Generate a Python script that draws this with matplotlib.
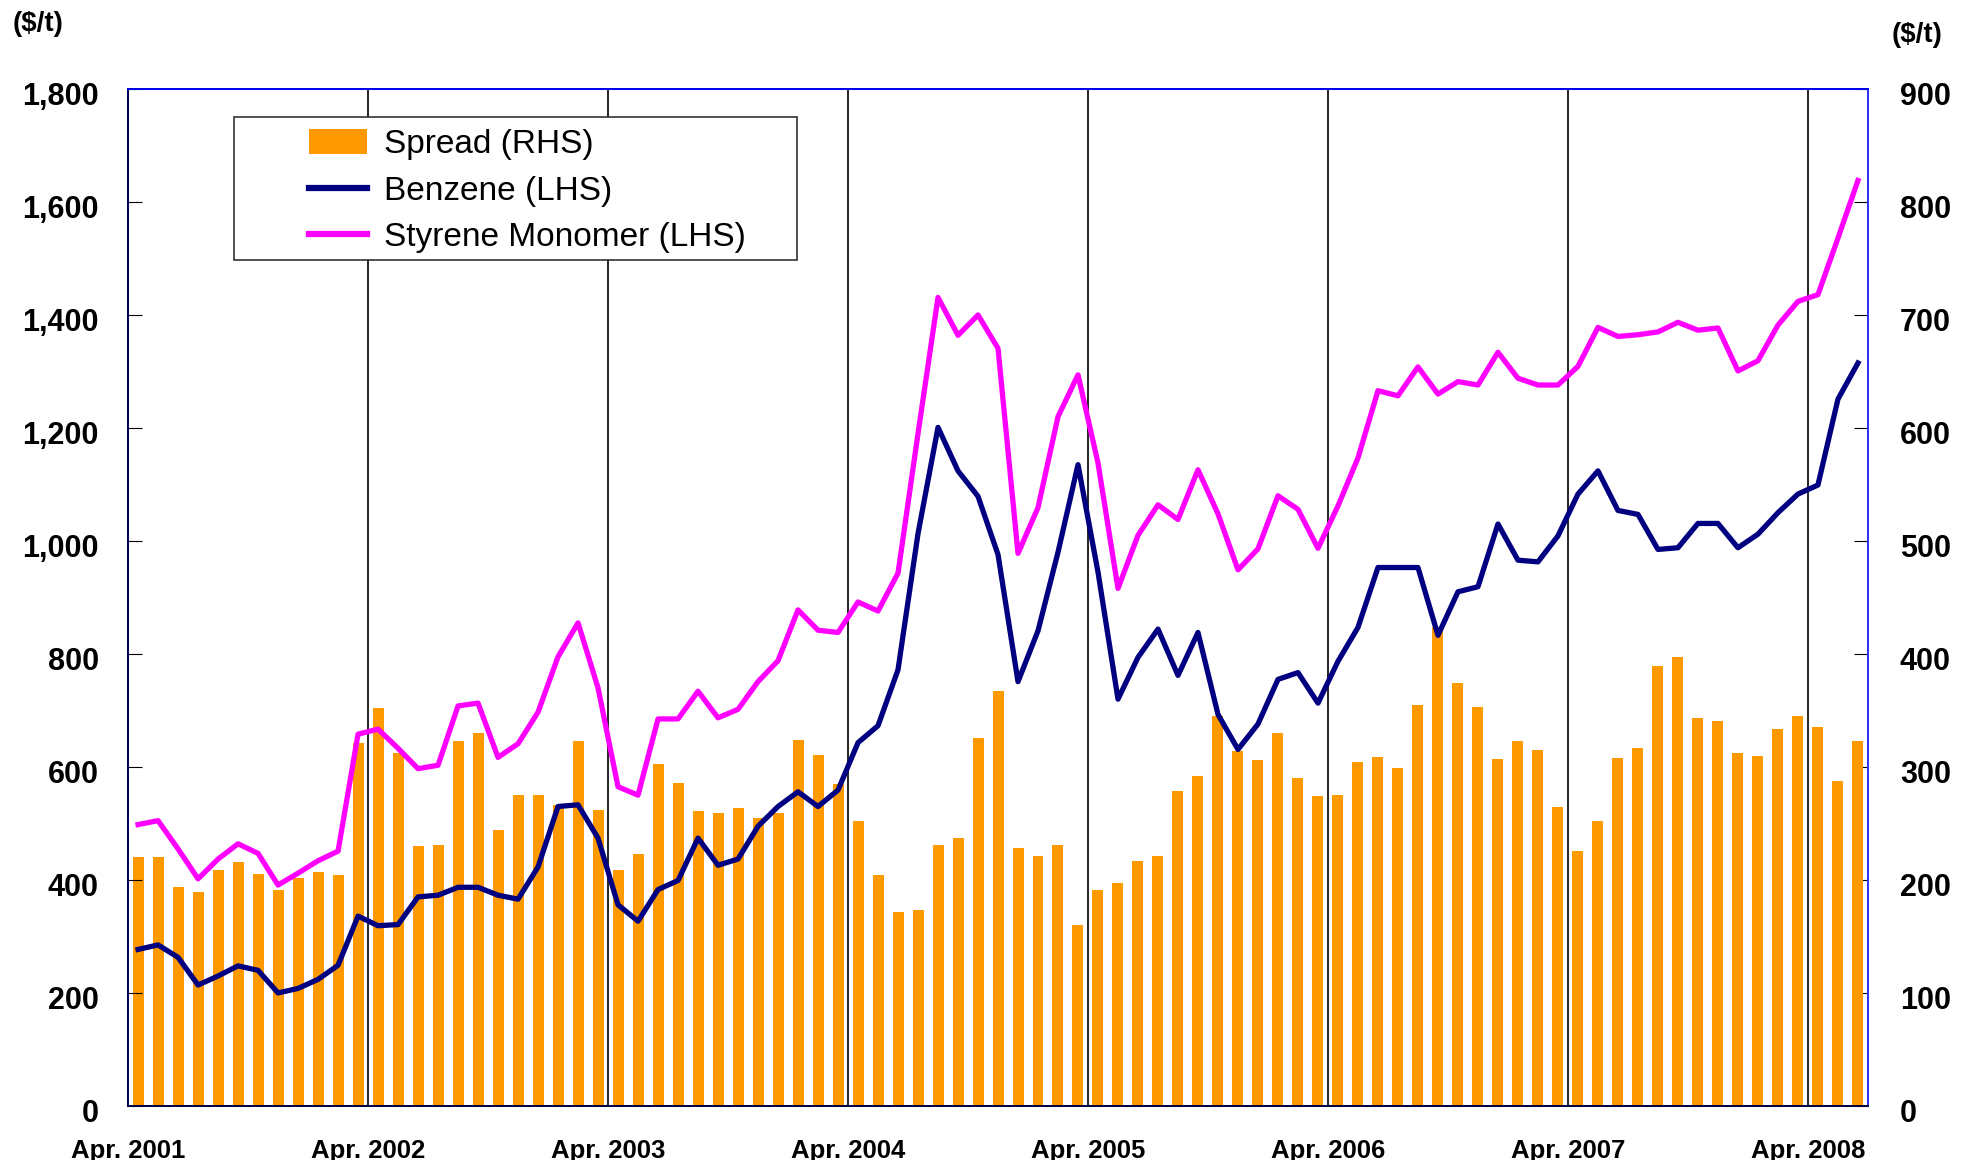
import matplotlib
matplotlib.use('Agg')
import matplotlib.pyplot as plt
import matplotlib.transforms as mtransforms
from matplotlib.patches import Rectangle
import numpy as np

plt.rcParams['font.family'] = ['Liberation Sans', 'DejaVu Sans']

# monthly data, Apr. 2001 - Jun. 2008 ($/t)
year_labels = ['Apr. 2001', 'Apr. 2002', 'Apr. 2003', 'Apr. 2004',
               'Apr. 2005', 'Apr. 2006', 'Apr. 2007', 'Apr. 2008']

styrene = [498, 505, 455, 402, 437, 464, 447, 391, 412, 434, 451, 658,
           667, 633, 597, 603, 708, 713, 617, 641, 697, 795, 855, 740,
           565, 550, 685, 685, 734, 687, 702, 751, 788, 878, 842, 838,
           892, 876, 943, 1190, 1431, 1364, 1400, 1341, 978, 1059, 1220, 1294,
           1138, 916, 1010, 1064, 1038, 1126, 1048, 949, 986, 1080, 1056, 987,
           1062, 1147, 1266, 1257, 1308, 1260, 1282, 1276, 1334, 1288, 1276, 1276,
           1309, 1378, 1362, 1365, 1370, 1387, 1373, 1377, 1301, 1319, 1382, 1424,
           1436, 1536, 1638]

benzene = [277, 285, 263, 214, 230, 248, 240, 200, 208, 224, 249, 336,
           319, 321, 370, 373, 387, 387, 373, 366, 423, 530, 533, 474,
           356, 327, 383, 399, 474, 426, 437, 495, 530, 556, 530, 559,
           643, 673, 772, 1013, 1201, 1124, 1079, 976, 751, 841, 980, 1135,
           945, 720, 794, 844, 762, 838, 693, 631, 676, 755, 767, 713,
           787, 847, 953, 953, 953, 833, 910, 919, 1030, 966, 963, 1009,
           1083, 1124, 1054, 1047, 985, 988, 1031, 1031, 988, 1012, 1050, 1083,
           1099, 1251, 1315]

spread = [220, 220, 194, 189, 209, 216, 205, 191, 202, 207, 204, 321,
          352, 312, 230, 231, 323, 330, 244, 275, 275, 266, 323, 262,
          209, 223, 303, 286, 261, 259, 264, 255, 259, 324, 311, 285,
          252, 204, 172, 173, 231, 237, 326, 367, 228, 221, 231, 160,
          191, 197, 217, 221, 279, 292, 345, 314, 306, 330, 290, 274,
          275, 304, 309, 299, 355, 424, 374, 353, 307, 323, 315, 265,
          226, 252, 308, 317, 389, 397, 343, 341, 312, 310, 334, 345,
          335, 288, 323]

n = len(spread)
x = np.arange(n) + 0.5

fig = plt.figure(figsize=(19.7, 11.6), dpi=100)
ax = fig.add_axes([0.065, 0.0466, 0.8832, 0.8767])
ax2 = ax.twinx()

# bars on the right axis, lines on the left axis drawn above
ax2.bar(x, spread, width=0.55, color='#FF9900', label='Spread (RHS)', zorder=2)
ax.set_zorder(ax2.get_zorder() + 1)
ax.patch.set_visible(False)
ax.plot(x, benzene, color='#000080', lw=3.8, label='Benzene (LHS)',
        solid_joinstyle='round')
ax.plot(x, styrene, color='#FF00FF', lw=3.8, label='Styrene Monomer (LHS)',
        solid_joinstyle='round')

ax.set_xlim(0, n)
ax.set_ylim(0, 1800)
ax2.set_ylim(0, 900)

year_pos = np.arange(0, n, 12)
for p in year_pos[1:]:
    ax.axvline(p, color='black', lw=1.2, zorder=0)
ax.set_xticks(year_pos)
ax.set_xticklabels(year_labels, fontsize=18.5, fontweight='bold')
ax.tick_params(axis='x', length=0, pad=24)

ax.set_yticks(np.arange(0, 1801, 200))
ax.set_yticklabels(['{:,}'.format(v) for v in range(0, 1801, 200)],
                   fontsize=22, fontweight='bold')
ax.tick_params(axis='y', direction='in', length=10, pad=21)
ax2.set_yticks(np.arange(0, 901, 100))
ax2.set_yticklabels([str(v) for v in range(0, 901, 100)],
                    fontsize=22, fontweight='bold')
ax2.tick_params(axis='y', direction='in', length=10, pad=23)

off = mtransforms.ScaledTranslation(0, -5 / 100, fig.dpi_scale_trans)
for lab in ax.get_yticklabels() + ax2.get_yticklabels():
    lab.set_transform(lab.get_transform() + off)

for a in (ax, ax2):
    a.spines['top'].set_color('#0000EE')
    a.spines['right'].set_color('#3333EE')
    a.spines['left'].set_color('#000060')
    a.spines['bottom'].set_color('#000040')
    for s in a.spines.values():
        s.set_linewidth(1.3)

fig.text(38 / 1970, 1 - 24 / 1160, '($/t)', fontsize=20, fontweight='bold',
         ha='center', va='center')
fig.text(1917 / 1970, 1 - 35 / 1160, '($/t)', fontsize=20, fontweight='bold',
         ha='center', va='center')

# legend with a white box that hides the gridlines behind it
h1, l1 = ax2.get_legend_handles_labels()
h2, l2 = ax.get_legend_handles_labels()
leg = fig.legend(h1 + h2, l1 + l2, loc='upper left',
                 bbox_to_anchor=(309 / 1970, 1 - 129 / 1160),
                 frameon=False, fontsize=24, handlelength=1.75,
                 handleheight=0.75, handletextpad=0.5, labelspacing=0.47,
                 borderpad=0, borderaxespad=0)
leg.set_zorder(6)
for line in leg.get_lines():
    line.set_linewidth(4.5)
box = Rectangle((234 / 1970, 1 - 260 / 1160), (797 - 234) / 1970,
                (260 - 117) / 1160, transform=fig.transFigure,
                facecolor='white', edgecolor='#333333', lw=1.2, zorder=5)
fig.add_artist(box)

fig.savefig('out.png', dpi=100)
